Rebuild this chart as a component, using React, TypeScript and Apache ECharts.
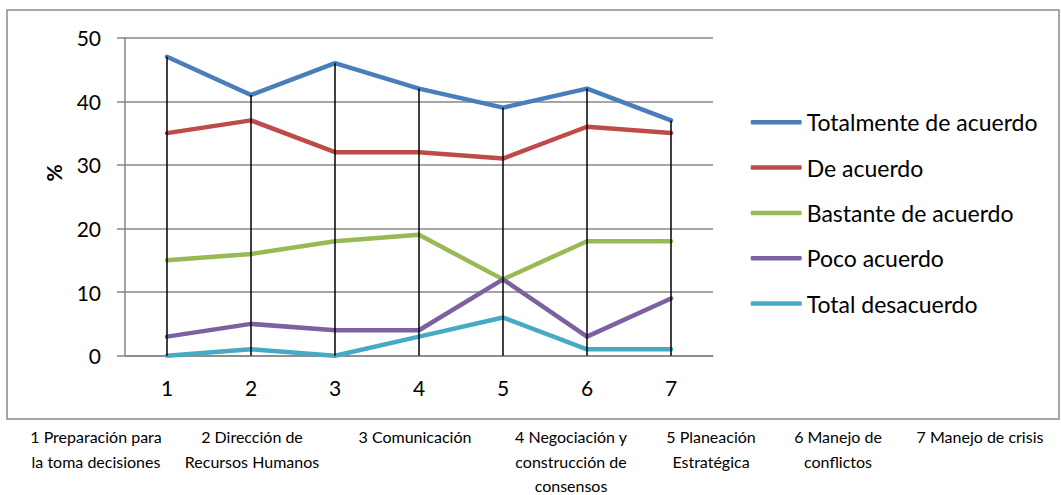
import React, { useEffect, useRef } from "react";
import * as echarts from "echarts";

const categories = ["1", "2", "3", "4", "5", "6", "7"];
const seriesNames = [
  "Totalmente de acuerdo",
  "De acuerdo",
  "Bastante de acuerdo",
  "Poco acuerdo",
  "Total desacuerdo",
];
const totalmente = [47, 41, 46, 42, 39, 42, 37];
const deAcuerdo = [35, 37, 32, 32, 31, 36, 35];
const bastante = [15, 16, 18, 19, 12, 18, 18];
const poco = [3, 5, 4, 4, 12, 3, 9];
const desacuerdo = [0, 1, 0, 3, 6, 1, 1];
const colors = ["#4a7ebb", "#be4b48", "#98b954", "#7d60a0", "#46aac5"];
const bottomLabels = [
  "1 Preparación para\nla toma decisiones",
  "2 Dirección de\nRecursos Humanos",
  "3 Comunicación",
  "4 Negociación y\nconstrucción de\nconsensos",
  "5 Planeación\nEstratégica",
  "6 Manejo de\nconflictos",
  "7 Manejo de crisis",
];
const bottomCenters = [96, 252, 415, 571, 711, 838, 980];

export default function App() {
  const ref = useRef<HTMLDivElement>(null);
  useEffect(() => {
    if (!ref.current) return;
    const chart = echarts.init(ref.current, null, { renderer: "svg" });
    const all = [totalmente, deAcuerdo, bastante, poco, desacuerdo];
    const maxes = categories.map((_, i) => Math.max(...all.map((s) => s[i])));
    const font = "Lato";
    const gray = "#878787";
    chart.setOption({
      animation: false,
      textStyle: { fontFamily: font },
      grid: { left: 125, right: 348, top: 37.7, bottom: 139.3, containLabel: false },
      legend: {
        orient: "vertical",
        left: 745.7,
        top: 105.3,
        icon: "roundRect",
        itemWidth: 51,
        itemHeight: 4.5,
        itemGap: 21.3,
        data: seriesNames,
        textStyle: { fontSize: 23, color: "#000", fontFamily: font, lineHeight: 24 },
      },
      xAxis: {
        type: "category",
        data: categories,
        boundaryGap: true,
        axisLine: { lineStyle: { color: gray, width: 1.5 } },
        axisTick: { show: false },
        axisLabel: { fontSize: 21, color: "#000", margin: 21, fontFamily: font },
      },
      yAxis: {
        type: "value",
        min: 0,
        max: 50,
        interval: 10,
        axisLine: { show: true, lineStyle: { color: gray, width: 1.5 } },
        axisTick: { show: true, length: 8, lineStyle: { color: gray, width: 1.5 } },
        splitLine: { lineStyle: { color: gray, width: 1.5 } },
        axisLabel: { fontSize: 21, color: "#000", margin: 24, fontFamily: font },
      },
      series: [
        ...[totalmente, deAcuerdo, bastante, poco, desacuerdo].map((d, i) => ({
          name: seriesNames[i],
          type: "line",
          data: d,
          showSymbol: false,
          symbol: "none",
          lineStyle: { color: colors[i], width: 4.5, cap: "round", join: "round" },
          itemStyle: { color: colors[i] },
          z: 2,
        })),
        {
          name: "drop",
          type: "custom",
          data: maxes.map((m, i) => [i, m]),
          z: 5,
          renderItem: (_params: any, api: any) => {
            const x = api.value(0);
            const top = api.coord([x, api.value(1)]);
            const bot = api.coord([x, 0]);
            return {
              type: "line",
              shape: { x1: top[0], y1: top[1], x2: bot[0], y2: bot[1] },
              style: { stroke: "#000", lineWidth: 1.5 },
            };
          },
        },
      ],
      graphic: [
        {
          type: "rect",
          shape: { x: 7, y: 10, width: 1052, height: 409 },
          style: { fill: "none", stroke: "#8a8a8a", lineWidth: 1.5 },
          silent: true,
        },
        {
          type: "text",
          x: 53,
          y: 173,
          rotation: Math.PI / 2,
          style: {
            text: "%",
            align: "center",
            verticalAlign: "middle",
            font: `bold 21px ${font}`,
            fill: "#000",
          },
        },
        ...bottomLabels.map((t, i) => ({
          type: "text",
          x: bottomCenters[i],
          y: 424.5,
          style: {
            text: t,
            align: "center",
            verticalAlign: "top",
            font: `16px ${font}`,
            lineHeight: 24.4,
            fill: "#000",
          },
        })),
      ],
    });
    return () => chart.dispose();
  }, []);
  return (
    <div
      ref={ref}
      style={{ position: "fixed", left: 0, top: 0, width: 1061, height: 495, background: "#fff" }}
    />
  );
}
